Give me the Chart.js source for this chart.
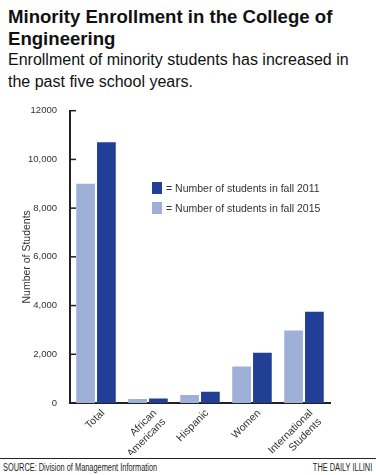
<!DOCTYPE html>
<html>
<head>
<meta charset="utf-8">
<script src="https://cdn.jsdelivr.net/npm/chart.js@4.4.1/dist/chart.umd.min.js"></script>
<style>
  html, body { margin: 0; padding: 0; background: #fff; }
  body { width: 376px; height: 475px; position: relative; overflow: hidden; font-family: "Liberation Sans", Arial, sans-serif; color: #111; }
  #title { position: absolute; left: 8px; top: 6px; width: 368px; font-weight: bold; font-size: 18.6px; line-height: 22px; }
  #sub { position: absolute; left: 8px; top: 49px; width: 368px; font-size: 16px; line-height: 22px; white-space: nowrap; }
  #wrap { position: absolute; left: 0; top: 100px; width: 376px; height: 355px; }
  .leg { position: absolute; left: 152px; font-size: 10.5px; color: #333; line-height: 12px; }
  .leg i { display: inline-block; width: 10px; height: 12px; vertical-align: -2px; margin-right: 4px; }
  #rule { position: absolute; left: 0; top: 458px; width: 376px; height: 0; border-top: 1.5px solid #222; }
  .foot { position: absolute; top: 462px; font-size: 10px; color: #222; transform: scaleX(0.74); }
</style>
</head>
<body>
<div id="title">Minority Enrollment in the College of<br>Engineering</div>
<div id="sub">Enrollment of minority students has increased in<br>the past five school years.</div>
<div id="wrap"><canvas id="c"></canvas></div>
<div class="leg" style="top:182px"><i style="background:#223f96"></i>= Number of students in fall 2011</div>
<div class="leg" style="top:202px"><i style="background:#9fb0d8"></i>= Number of students in fall 2015</div>
<div id="rule"></div>
<div class="foot" style="left:3px; transform-origin: left top">SOURCE: Division of Management Information</div>
<div class="foot" style="right:4px; transform-origin: right top">THE DAILY ILLINI</div>
<script>
const categories = ['Total', ['African', 'Americans'], 'Hispanic', 'Women', ['International', 'Students']];
const fall2015 = [9000, 160, 330, 1500, 2980];
const fall2011 = [10700, 180, 460, 2060, 3750];
const yTicks = [0, 2000, 4000, 6000, 8000, 10000, 12000];

const LIGHT = '#9fb0d8';
const DARK = '#223f96';
const INK = '#222';

// small tick marks pointing into the plot
const innerTicks = {
  id: 'innerTicks',
  afterDraw(chart) {
    const y = chart.scales.y;
    const ctx = chart.ctx;
    const left = chart.chartArea.left;
    ctx.save();
    ctx.fillStyle = INK;
    yTicks.forEach(v => {
      if (v === 0) return;
      const py = y.getPixelForValue(v);
      ctx.fillRect(left - 1, py - 0.75, 7, 1.5);
    });
    ctx.restore();
  }
};

new Chart(document.getElementById('c'), {
  type: 'bar',
  data: {
    labels: categories,
    datasets: [
      { label: 'fall 2015', data: fall2015, backgroundColor: LIGHT, borderWidth: 0 },
      { label: 'fall 2011', data: fall2011, backgroundColor: DARK, borderWidth: 0 }
    ]
  },
  options: {
    responsive: true,
    maintainAspectRatio: false,
    animation: false,
    layout: { padding: { left: 21, right: 46, top: 9, bottom: 0 } },
    plugins: { legend: { display: false }, tooltip: { enabled: false } },
    datasets: { bar: { categoryPercentage: 0.8, barPercentage: 0.9 } },
    scales: {
      x: {
        grid: { drawOnChartArea: false, drawTicks: false },
        border: { color: INK, width: 2 },
        ticks: { color: '#333', font: { family: 'Liberation Sans', size: 10.5 }, minRotation: 45, maxRotation: 45, padding: 4, labelOffset: 7 },
        afterFit: s => { s.height = 52; }
      },
      y: {
        min: 0,
        max: 12000,
        afterBuildTicks: s => { s.ticks = yTicks.map(v => ({ value: v })); },
        grid: { display: false },
        border: { color: INK, width: 2 },
        ticks: {
          color: '#333',
          font: { family: 'Liberation Sans', size: 9.5 },
          padding: 5,
          callback: v => v === 12000 ? '12000' : v.toLocaleString('en-US')
        },
        title: { display: true, text: 'Number of Students', color: '#333', font: { family: 'Liberation Sans', size: 10.5 }, padding: 0 },
        afterFit: s => { s.width = 49; }
      }
    }
  },
  plugins: [innerTicks]
});
</script>
</body>
</html>
